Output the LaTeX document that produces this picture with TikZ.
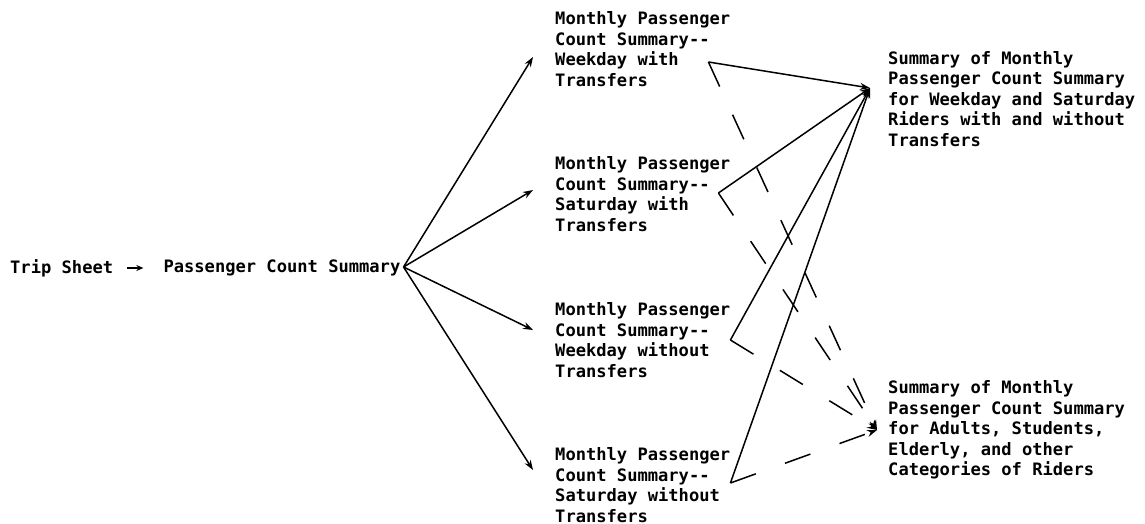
\documentclass[tikz,border=0pt]{standalone}
\usepackage{fontspec}
\setmonofont{DejaVu Sans Mono}
\usetikzlibrary{arrows.meta,positioning,calc}

\begin{document}
\begin{tikzpicture}[
  x=1pt, y=-1pt,
  >={Stealth[length=10pt,width=7pt]},
  font=\ttfamily\bfseries\fontsize{17.1}{20.5}\selectfont,
  % plain printout text, no frame
  report/.style = {align=left, inner sep=0pt, anchor=west},
  flow/.style = {->, line width=1.5pt},
  link/.style = {->, line width=1.5pt, dash pattern=on 27pt off 31pt}
]

% ---- frame ----
\useasboundingbox (0,0) rectangle (1145,524);

% ---- nodes ----
% Left: source sheet
\node[report] (trip) at (10,268) {Trip Sheet};
\node[report, right=50pt of trip] (pcs) {Passenger Count Summary};

% Middle column: monthly summaries
\node[report] (wdw) at (555,49) {Monthly Passenger\\
Count Summary--\\
Weekday with\\
Transfers};

\node[report] (saw) at (555,194) {Monthly Passenger\\
Count Summary--\\
Saturday with\\
Transfers};

\node[report] (wdo) at (555,340) {Monthly Passenger\\
Count Summary--\\
Weekday without\\
Transfers};

\node[report] (sao) at (555,485) {Monthly Passenger\\
Count Summary--\\
Saturday without\\
Transfers};

% Right column: totals
\node[report] (ridetot) at (888,99) {Summary of Monthly\\
Passenger Count Summary\\
for Weekday and Saturday\\
Riders with and without\\
Transfers};

\node[report] (cattot) at (888,430) {Summary of Monthly\\
Passenger Count Summary\\
for Adults, Students,\\
Elderly, and other\\
Categories of Riders};

% ---- corner points ----
\coordinate (fan) at ($(pcs.east)+(3,-1)$);
\coordinate (wdw-out) at ($(wdw.east)+(-22,13)$);
\coordinate (saw-out) at ($(saw.east)+(-12,-1)$);
\coordinate (wdo-out) at ($(wdo.east)+(0,0)$);
\coordinate (sao-out) at ($(sao.east)+(0,-2)$);
\coordinate (ridetot-in) at ($(ridetot.west)+(-18,-11)$);
\coordinate (cattot-in) at ($(cattot.west)+(-11,0)$);

% ---- arrows ----
\draw[flow, shorten <=14pt, shorten >=20pt, >={Stealth[length=7pt,width=6pt]}] (trip) -- (pcs);

\foreach \m/\dy in {wdw/8, saw/-4, wdo/-10, sao/-15}
  \draw[flow] (fan) -- ($(\m.west)+(-22,\dy)$);

% feed into the two totals
\foreach \m in {wdw,saw,wdo,sao} {
  \draw[flow] (\m-out) -- (ridetot-in);
  \draw[link] (\m-out) -- (cattot-in);
}

\end{tikzpicture}
\end{document}
